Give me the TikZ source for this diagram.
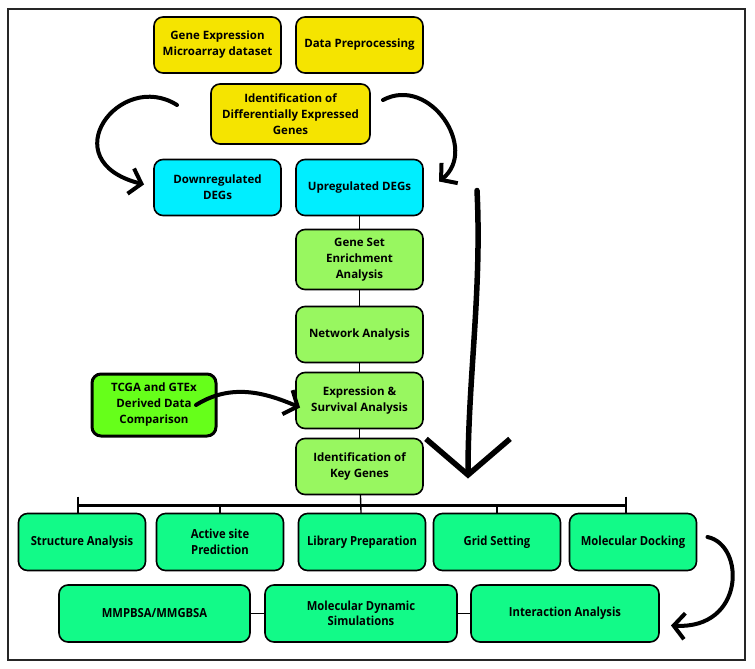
\documentclass[tikz,border=0pt]{standalone}
\usepackage{fontspec}
\setmainfont{Open Sans}
\newfontfamily\narrowfont[FakeStretch=0.9]{Open Sans}
\usepackage{xcolor}
\usepackage{tikz}
\usetikzlibrary{positioning}
\usetikzlibrary{shapes,calc,arrows.meta}

\definecolor{boxyellow}{HTML}{F5E400}
\definecolor{boxcyan}{HTML}{00EEFF}
\definecolor{boxlime}{HTML}{98F760}
\definecolor{boxgreen}{HTML}{66FF1A}
\definecolor{boxmint}{HTML}{12FA88}

\begin{document}
\begin{tikzpicture}[x=1pt,y=-1pt,
  flow box/.style={draw,line width=1.6pt,rounded corners=9pt,align=center,
    minimum width=127pt,minimum height=56pt,inner sep=2pt,outer sep=0pt,
    font=\fontsize{11.5}{16}\selectfont\bfseries},
  yellow box/.style={flow box,fill=boxyellow},
  cyan box/.style={flow box,fill=boxcyan},
  lime box/.style={flow box,fill=boxlime},
  mint box/.style={flow box,fill=boxmint,minimum height=57pt,
    font=\narrowfont\fontsize{12.5}{15.5}\selectfont\bfseries},
  link/.style={line width=1.4pt},
  hand arrow/.style={line width=4pt,line cap=round,
    -{Straight Barb[length=11pt,width=26pt]}}]
  \useasboundingbox (0,0) rectangle (755,669);
  \draw[line width=1.5pt,black!85] (8,9) rectangle (745,660);

  % top block
  \node (gene) [yellow box] at (217.5,45) {Gene Expression\\Microarray dataset};
  \node (prep) [yellow box,right=15pt of gene] {Data Preprocessing};
  \node (ident) [yellow box,minimum width=159pt,minimum height=60pt] at (290.5,114)
    {Identification of\\Differentially Expressed\\Genes};
  \node (down) [cyan box] at (217.5,187.5) {Downregulated\\DEGs};
  \node (up) [cyan box,right=15pt of down] {Upregulated DEGs};

  % main column
  \node (gsea) [lime box,below=14pt of up,minimum height=60pt] {Gene Set\\Enrichment\\Analysis};
  \node (net) [lime box,below=17pt of gsea] {Network Analysis};
  \node (expr) [lime box,below=10pt of net] {Expression \&\\Survival Analysis};
  \node (key) [lime box,below=10pt of expr] {Identification of\\Key Genes};
  \node (tcga) [flow box,fill=boxgreen,line width=3pt,minimum width=124pt,minimum height=62pt]
    at (154,405) {TCGA and GTEx\\Derived Data\\Comparison};

  % docking steps
  \node (struct) [mint box] at (82,542) {Structure Analysis};
  \node (active) [mint box,right=11pt of struct] {Active site\\Prediction};
  \node (lib) [mint box,right=15pt of active] {Library Preparation};
  \node (grid) [mint box,right=8pt of lib] {Grid Setting};
  \node (dock) [mint box,right=9pt of grid] {Molecular Docking};

  \node (mm) [mint box,minimum width=191pt] at (154.5,613.5) {MMPBSA/MMGBSA};
  \node (md) [mint box,minimum width=192pt,right=15pt of mm] {Molecular Dynamic\\Simulations};
  \node (inter) [mint box,minimum width=188pt,right=14pt of md] {Interaction Analysis};

  % plain links
  \draw[link] (up) -- (gsea);
  \draw[link] (gsea) -- (net);
  \draw[link] (net) -- (expr);
  \draw[link] (expr) -- (key);
  \draw[link] (key) -- (lib);
  \draw[link] (mm) -- (md);
  \draw[link] (md) -- (inter);

  % branch bar
  \coordinate (bar west) at ([xshift=-4pt,yshift=8pt]struct.north);
  \coordinate (bar east) at ([xshift=-7pt,yshift=8pt]dock.north);
  \draw[line width=2.6pt] (bar west) -- (bar east);
  \draw[link] ([yshift=9pt]bar west) -- (bar west |- struct.north);
  \draw[link] ([yshift=9pt]bar east) -- (bar east |- dock.north);
  \draw[link] ([yshift=9pt]active.north) -- (active.north);
  \draw[link] ([yshift=9pt]grid.north) -- (grid.north);

  % hand drawn arrows
  \draw[hand arrow] ([xshift=-34pt,yshift=9pt]ident.west)
    .. controls +(-57,-36) and +(-93,-24) .. ([xshift=-10pt,yshift=3pt]down.west);
  \draw[hand arrow] ([xshift=13pt,yshift=14pt]ident.east)
    .. controls +(47,-25) and +(40,-32) .. ([xshift=16pt,yshift=6pt]up.east);
  \draw[line width=5.5pt,line cap=round,-{Straight Barb[length=36pt,width=84pt]}]
    ([xshift=54pt,yshift=-3pt]up.east)
    .. controls +(5,100) and +(0,-100) .. ([xshift=45pt,yshift=-12pt]key.east);
  \draw[hand arrow] ([xshift=-20pt]tcga.east)
    .. controls +(35,-22) and +(-35,-15) .. ([xshift=4pt,yshift=-7pt]expr.west);
  \draw[hand arrow] ([xshift=11pt,yshift=5pt]dock.east)
    .. controls +(38,8) and +(74,4) .. ([xshift=12pt,yshift=-12pt]inter.east);
\end{tikzpicture}
\end{document}
